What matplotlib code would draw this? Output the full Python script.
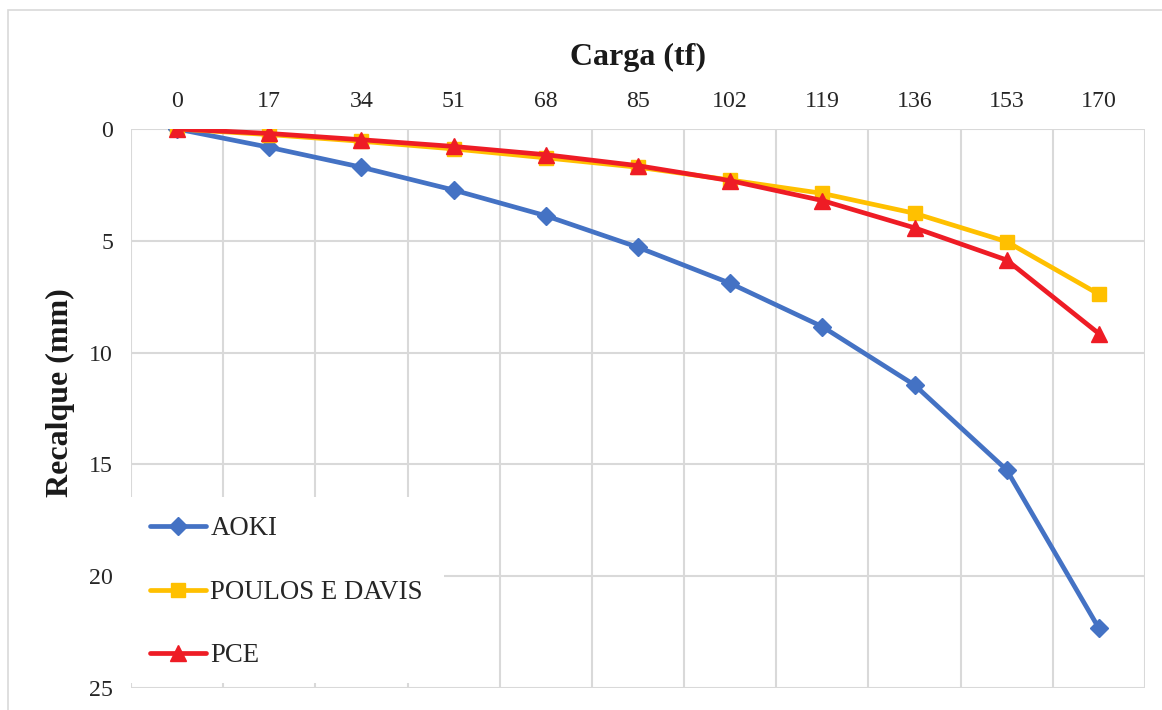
import matplotlib
matplotlib.use("Agg")
import matplotlib.pyplot as plt
from matplotlib.patches import Rectangle

plt.rcParams['font.family'] = ['Liberation Serif', 'DejaVu Serif']

# Load levels (tf) and settlement curves (mm)
carga = [0, 17, 34, 51, 68, 85, 102, 119, 136, 153, 170]
aoki = [0.0, 0.82, 1.71, 2.73, 3.88, 5.29, 6.90, 8.84, 11.45, 15.25, 22.33]
poulos_davis = [0.0, 0.25, 0.55, 0.89, 1.29, 1.71, 2.28, 2.88, 3.77, 5.04, 7.39]
pce = [0.0, 0.20, 0.48, 0.78, 1.15, 1.64, 2.31, 3.20, 4.42, 5.86, 9.15]

series_names = ['AOKI', 'POULOS E DAVIS', 'PCE']
series_colors = ['#4472C4', '#FFC000', '#EE1C25']
series_markers = ['D', 's', '^']
series_ms = [9, 10.5, 11]

W, H = 1162, 710
fig = plt.figure(figsize=(W / 100, H / 100), dpi=100)

# Outer chart-area border
fig.patches.append(Rectangle((8 / W, -0.05), 1.2, (1 - 10 / H) + 0.05,
                             transform=fig.transFigure, fill=False,
                             edgecolor='#D9D9D9', linewidth=1.2))

left, right, top, bottom = 131, 1145, 129, 688
ax = fig.add_axes([left / W, 1 - bottom / H, (right - left) / W, (bottom - top) / H])

grid_c = '#D9D9D9'
x = list(range(len(carga)))
handles = []
for vals, name, col, mk, ms in zip([aoki, poulos_davis, pce], series_names,
                                   series_colors, series_markers, series_ms):
    h, = ax.plot(x, vals, color=col, lw=3.4, marker=mk, ms=ms,
                 markerfacecolor=col, markeredgecolor=col, label=name,
                 solid_joinstyle='round', solid_capstyle='round', zorder=3)
    handles.append(h)

ax.set_xlim(-0.5, len(carga) - 0.5)
ax.set_ylim(25, 0)

# Category gridlines between load levels
for xv in [i - 0.5 for i in range(len(carga) + 1)]:
    ax.axvline(xv, color=grid_c, lw=1.5, zorder=1)
for yv in range(0, 26, 5):
    ax.axhline(yv, color=grid_c, lw=1.5, zorder=1)

for s in ax.spines.values():
    s.set_visible(False)

ax.xaxis.tick_top()
ax.set_xticks(x)
ax.set_xticklabels([str(c) for c in carga])
ax.set_yticks(range(0, 26, 5))
ax.tick_params(axis='both', length=0, labelsize=17.2, colors='#262626')
ax.tick_params(axis='x', pad=12)
ax.tick_params(axis='y', pad=13)

fig.text(638 / W, 1 - 57 / H, 'Carga (tf)', ha='center', va='center',
         fontsize=23, fontweight='bold', color='#1a1a1a')
fig.text(60 / W, 1 - 393 / H, 'Recalque (mm)', ha='center', va='center',
         rotation=90, fontsize=23, fontweight='bold', color='#1a1a1a')

# White legend area laid over the gridlines
ax.add_patch(Rectangle((131 / W, 1 - 683 / H), (444 - 131) / W, (683 - 497) / H,
                       transform=fig.transFigure, facecolor='white',
                       edgecolor='none', zorder=2))

leg = ax.legend(handles=handles, loc='upper left',
                bbox_to_anchor=(131 / W, 1 - 497 / H),
                bbox_transform=fig.transFigure, frameon=False,
                fontsize=19.3, handlelength=2.09, handletextpad=0.15,
                labelspacing=1.44, borderpad=0.72, borderaxespad=0)
for t in leg.get_texts():
    t.set_color('#262626')
leg.set_zorder(5)

fig.savefig('out.png', dpi=100, facecolor='white')
